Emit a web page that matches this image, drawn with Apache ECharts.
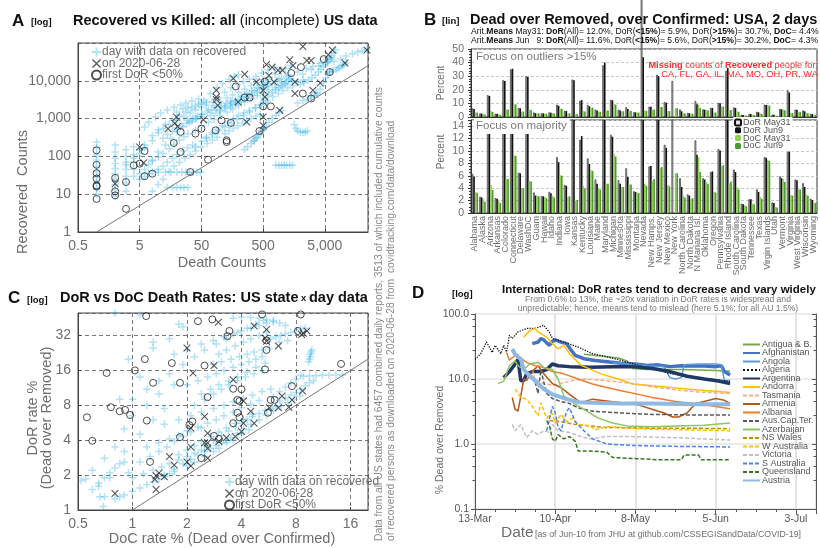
<!DOCTYPE html>
<html>
<head>
<meta charset="utf-8">
<script src="https://cdn.jsdelivr.net/npm/echarts@6/dist/echarts.min.js"></script>
<style>
html, body { margin: 0; padding: 0; background: #fff; }
#chart { width: 820px; height: 548px; }
</style>
</head>
<body>
<div id="chart"></div>
<script>
// ---------- Panel A: recovered vs deaths (deaths, recovered) ----------
var plusA = [
  [[1500,10000],[2200,15000],[3000,20000],[4000,25000],[5500,30000],[7000,33000],[9000,38000],[11000,45000],[14000,52000],[17000,58000],[20000,62000],[24000,68000]],
  [[600,8000],[900,11000],[1300,14000],[1800,17000],[2500,21000],[3200,24000],[4200,29000],[5500,37000],[6500,45000],[7000,55000],[7500,65000]],
  [[6000,17000],[6800,18500],[7600,20000],[8200,21500],[8800,23000],[9500,25000],[10200,27000],[11000,30000]],
  [[3000,4000],[3600,4800],[4200,6000],[4800,9000],[5200,12000],[5600,15000],[6000,17000]],
  [[1800,2600],[2200,3000],[2600,3300],[3000,3600],[3400,4000],[3800,4500]],
  [[3,60],[4,90],[5,150],[6,200],[8,350],[10,500],[13,700],[17,900],[22,1200],[28,1500],[35,1900],[45,2400],[55,3000],[70,4500],[90,6500],[110,8500],[140,11000],[170,13000],[200,14500]],
  [[5,120],[6,170],[8,260],[10,420],[12,550],[15,700],[20,900],[26,1100],[33,1400],[40,1700],[50,2000],[60,2300],[75,2800],[95,3600],[120,5000],[150,6500],[190,8000],[240,9500],[300,11000],[380,13000],[480,16000],[600,20000],[750,23000]],
  [[8,80],[10,130],[13,200],[16,300],[20,450],[25,600],[32,800],[40,1000],[50,1300],[65,1700],[80,2200],[100,2800],[130,3500],[160,4200],[200,5000],[250,6000],[320,7500],[400,9000],[500,10500],[620,12500],[780,15000],[950,18000],[1150,21000],[1400,25000]],
  [[30,400],[40,500],[50,650],[65,800],[80,950],[100,1200],[130,1500],[160,1800],[200,2200],[250,2700],[320,3300],[400,4000],[500,4800],[620,5600],[780,6500],[950,7500],[1150,8500]],
  [[60,300],[75,380],[95,480],[120,600],[150,750],[190,950],[240,1200],[300,1500],[380,1900],[470,2400],[580,3000],[720,3800],[880,4600],[1050,5500],[1250,6500],[1500,7500],[1800,9000],[2200,10500]],
  [[250,150],[280,180],[320,220],[360,270],[400,320],[450,400],[500,500],[560,620],[620,800],[700,1000],[800,1200],[900,1450],[1000,1650]],
  [[350,250],[380,300],[420,380],[470,470],[520,580]],
  [[10,38],[13,38],[16,38],[20,38],[24,38],[28,38],[32,38],[37,38],[42,38],[48,38]],
  [[14,15],[17,15],[20,15],[23,15],[26,15],[30,15]],
  [[800,58],[900,58],[1000,58],[1100,58],[1200,58],[1350,58],[1500,58]],
  [[1600,700],[1700,550],[1800,480],[2000,440],[2200,430],[2400,440],[2600,470]],
  [[1,10],[1,14],[1,20],[1,28],[1,40],[1,55],[1,80],[1,110],[1,170],[1,240]],
  [[2,9],[2,13],[2,18],[2,25],[2,35],[2,48],[2,65],[2,90],[2,130],[2,200]],
  [[3,12],[3,20],[3,30],[3,45],[3,70],[3,100],[3,150],[4,45],[4,70],[4,110],[4,180]],
  [[5,25],[6,30],[7,35],[8,40],[10,45],[12,55],[14,70],[17,90],[20,110],[25,140],[30,170],[36,200]],
  [[8,12],[10,18],[12,25],[15,40],[18,55],[22,70],[27,90],[33,110],[40,140],[50,180],[62,220],[75,270],[90,320]],
  [[40,180],[50,250],[60,320],[75,420],[90,520],[110,650],[135,800],[165,1000],[200,1200],[245,1400],[300,1650],[370,1950],[450,2300],[550,2700]],
  [[100,1700],[120,2100],[150,2600],[180,3100],[220,3800],[270,4600],[330,5500],[400,6600],[480,7800],[560,9000]],
  [[20,1500],[25,1800],[30,2000],[40,2200],[50,2500],[60,2700]],
  [[500,3500],[600,4200],[700,5000],[800,5800],[900,6500],[1000,7500],[1100,8500],[1200,9500],[1300,10500],[1400,11500]],
  [[2000,8000],[2300,9000],[2700,10500],[3100,12000],[3500,14000],[3900,17000],[4300,20000],[4700,24000],[5100,28000],[5500,32000],[5900,36000],[6300,40000]],
  [[6,600],[7,800],[9,1100],[11,1400],[14,1700],[18,2000],[23,2300],[28,2600],[35,2900],[45,3300]],
  [[150,2000],[180,2400],[220,2900],[270,3500],[330,4200],[400,5000],[480,6000],[580,7200],[700,8600],[850,10000],[1000,11500],[1200,13000]],
  [[70,1200],[85,1400],[100,1600],[120,1900],[145,2300],[175,2800],[210,3300],[250,3900],[300,4600],[360,5400],[430,6300],[520,7400]],
  [[30,900],[36,1000],[43,1150],[52,1300],[62,1500],[74,1700],[88,1950],[105,2200],[125,2500],[150,2900]],
  [[12,300],[14,380],[17,470],[20,560],[24,650],[29,750],[35,850],[42,980],[50,1100]],
  [[4,30],[5,35],[6,45],[7,60],[8,75],[10,95],[12,120],[15,160],[18,210],[22,270],[26,330]],
  [[120,400],[140,480],[165,560],[195,650],[230,760],[270,880],[320,1000],[380,1150],[450,1300]]
];
var crossA = [[2,19],[5,177],[5.8,68],[14.4,540],[19.7,1100],[18.5,750],[20.5,620],[54,930],[87,5600],[87,3200],[92,2250],[87,3700],
  [164,11500],[197,2750],[251,14800],[270,810],[390,9300],[500,1100],[500,5600],[500,660],[533,3700],[567,27000],[621,13800],[698,23000],
  [750,9300],[870,19000],[931,1660],[1025,19000],[1350,36000],[1520,25500],[1640,9300],[1640,4600],[2200,81000],[2550,34500],[3000,34500],
  [3200,5600],[4200,8800],[5700,49000],[6600,65000],[10600,29500],[24000,65000]];
var circleA = [[1,145],[1,60],[1,36],[1,26],[1,17],[1,16],[1,7.5],[2,27],[2,11.9],[2,9.3],[3,4.1],[3,21],[4,58],[5,64],[6,139],[6,30],[8,35],
  [17.8,226],[23,444],[23,130],[33,38.6],[40,400],[50,540],[64,82],[85,490],[106,900],[128,266],[128,240],[150,770],[180,7100],[251,3600],
  [302,3600],[435,470],[500,2100],[533,9500],[666,2100],[1430,16000],[2200,4600],[2050,23000],[3000,3400],[4800,37500],[6000,17000]];
var diagonalA = [1, 25000];

// ---------- Panel B: DoR / DoC per state ----------
var states = ['Alabama','Alaska','Arizona','Arkansas','Colorado','Connecticut','Delaware','WashDC','Guam','Hawaii','Idaho','Indiana','Iowa',
  'Kansas','Kentucky','Louisiana','Maine','Maryland','Michigan','Minnesota','Mississippi','Montana','Nevada','New Hamps.','New Jersey',
  'New Mexico','New York','North Carolina','North Dakota','N Mariana Isl.','Oklahoma','Oregon','Pennsylvania','Rhode Island',
  'South Carolina','South Dakota','Tennessee','Texas','Virgin Islands','Utah','Vermont','Virginia','West Virginia','Wisconsin','Wyoming'];
var dorMay31 = [6.3,2.6,16,2.4,27,35,6.5,30,3.3,2.7,3.4,9.0,4.5,27.5,11.8,8.8,5.4,38,12.6,5.3,7.2,3.5,86,7.5,31,11,26.5,5.6,3.0,11.7,5.6,6.6,10.3,34,7.0,1.5,2.2,3.8,9.0,1.7,5.9,19.5,5.4,4.8,2.3];
var dorJun9 = [5.9,2.5,15.5,2.3,26.5,35.5,6.4,29.5,2.8,2.7,3.2,8.2,4.4,27,12.4,7.9,4.7,40,12.3,4.7,5.8,3.4,44,7.6,30,10.5,null,4.2,2.8,9.4,5.4,6.7,10.1,36,6.6,1.4,2.2,3.4,8.9,1.6,5.6,18,5.3,4.2,2.1];
var docMay31 = [3.4,2.2,4.5,2.0,5.5,9.3,4.0,5.2,2.8,2.6,2.8,6.1,2.6,2.0,4.4,6.9,4.0,4.7,9.5,4.2,4.6,3.3,4.7,5.2,7.3,4.5,6.4,2.8,2.3,9.0,5.0,3.4,7.6,4.8,4.1,1.2,1.5,2.6,8.6,1.0,5.5,2.9,3.8,3.0,1.7];
var docJun9 = [3.2,1.8,3.7,1.6,5.5,9.2,4.0,5.1,2.7,2.4,2.5,6.0,2.7,2.1,4.0,6.8,3.8,4.7,9.1,4.2,4.6,3.2,4.4,5.5,7.4,4.3,6.4,2.5,2.4,6.6,4.7,3.3,7.7,5.1,3.8,1.1,1.4,2.3,8.4,0.9,5.0,2.8,3.8,2.8,1.6];

// ---------- Panel C: DoR vs DoC (DoC %, DoR %) ----------
var plusC = [
  [[0.8,1.25],[0.9,1.35],[1.0,1.45],[1.1,1.55],[1.2,1.65],[1.3,1.75],[1.4,1.85],[1.5,1.95],[1.6,2.05],[1.7,2.15]],
  [[1.0,1.9],[1.15,2.05],[1.3,2.2],[1.45,2.35],[1.6,2.5],[1.8,2.7],[2.0,2.9],[2.2,3.1],[2.4,3.3],[2.6,3.5]],
  [[1.5,2.0],[1.7,2.25],[1.9,2.5],[2.1,2.75],[2.3,3.0],[2.5,3.2],[2.7,3.4],[2.9,3.6],[3.1,3.8],[3.3,4.0]],
  [[2.5,3.6],[2.8,4.0],[3.1,4.4],[3.4,4.8],[3.7,5.2],[4.0,5.6],[4.3,6.0],[4.6,6.4],[5.0,6.8],[5.4,7.2],[5.8,7.5],[6.2,7.8]],
  [[3.5,4.2],[3.8,4.6],[4.1,5.0],[4.5,5.5],[5.0,6.0],[5.5,6.6],[6.0,7.2],[6.6,7.8],[7.2,8.4],[7.8,9.0],[8.4,9.6]],
  [[1.2,3.5],[1.4,3.8],[1.6,4.1],[1.8,4.4],[2.0,4.8],[2.3,5.2],[2.6,5.6],[2.9,6.0],[3.2,6.5],[3.6,7.0],[4.0,7.6],[4.5,8.2],[5.0,8.8]],
  [[1.5,5.5],[1.8,6.0],[2.1,6.5],[2.4,7.0],[2.8,7.5],[3.2,8.0],[3.6,8.6],[4.1,9.2],[4.6,9.8],[5.2,10.5],[5.8,11.0]],
  [[1.0,9],[1.2,11],[1.4,13],[1.6,15],[1.9,18],[2.2,21],[2.5,24],[2.9,27],[3.3,30],[3.8,34],[4.3,37],[4.8,40],[5.3,43]],
  [[1.7,22],[2.0,24],[2.4,27],[2.8,29],[3.2,31],[3.6,33],[4.0,35],[4.5,37],[5.0,39],[5.5,41],[6.0,42]],
  [[2.0,12],[2.3,13],[2.6,14],[2.9,15],[3.2,16],[3.6,17],[4.0,18],[4.4,19],[4.8,20],[5.2,21]],
  [[5.8,30],[6.2,31],[6.6,32],[7.0,33],[7.5,34],[8.0,35],[8.5,36],[9.0,37],[6.5,28],[7.2,29]],
  [[9.4,19],[9.5,20],[9.6,21],[9.6,22],[9.7,23],[9.8,24]],
  [[8.8,14.2],[9.5,14.3],[10.3,14.4],[11.2,14.5],[12.2,14.5],[13.3,14.6],[14.5,14.6]],
  [[6.5,8.8],[7.0,9.3],[7.5,9.8],[8.0,10.3],[8.5,11.0],[9.0,11.8],[9.5,12.5],[10.0,13.0]],
  [[0.55,1.85],[0.6,2.2],[0.65,1.6],[0.7,1.3],[0.75,1.9],[0.85,2.5],[0.9,3.2],[0.95,2.1],[0.7,2.8],[0.8,3.5],[0.52,1.8],[0.69,1.07],[0.66,1.3],[0.85,1.3]],
  [[0.9,5],[1.0,6.5],[1.1,4.5],[1.2,8],[1.3,6],[0.85,9],[1.4,10],[1.5,7.5],[1.7,12],[1.1,14],[0.95,20],[1.3,25],[1.6,30],[1.9,38],[1.1,48],[1.8,40],[0.8,50],[1.3,28]],
  [[2.2,8],[2.5,9],[2.8,10],[3.1,11],[3.4,12],[3.8,13],[4.2,14],[4.7,15],[5.2,16]],
  [[3.6,45],[4.0,46],[4.5,46],[5.0,45],[5.5,44],[6.0,43],[6.5,41],[7.0,39]],
  [[2.8,18],[3.1,19],[3.5,20],[3.9,21],[4.3,22],[4.7,23],[5.2,24],[5.7,25]],
  [[2.0,2.4],[2.2,2.6],[2.5,2.9],[2.8,3.2],[3.0,3.4],[3.3,3.8],[3.6,4.0],[4.0,4.5],[4.4,4.9]],
  [[1.8,3.0],[2.0,3.3],[2.2,3.6],[2.4,3.9],[2.7,4.3],[3.0,4.7],[3.3,5.1],[3.7,5.6],[4.1,6.1],[4.6,6.7]],
  [[1.1,2.6],[1.25,2.9],[1.4,3.2],[1.55,3.5],[1.7,3.9],[1.9,4.3],[2.1,4.7],[2.4,5.1]],
  [[2.4,10],[2.7,11],[3.0,12],[3.4,13],[3.8,14],[4.3,15.5],[4.8,17],[5.4,18.5]],
  [[3.0,22],[3.3,24],[3.7,26],[4.1,28],[4.5,30],[5.0,32],[5.5,34]],
  [[6.0,9.5],[6.5,10.5],[7.0,11.5],[7.5,12.5],[8.0,13.5],[8.5,14.5]],
  [[0.6,1.5],[0.65,1.7],[0.7,1.9],[0.75,2.1],[0.8,2.3],[0.9,2.6]]
];
var crossC = [[2.0,25],[2.16,15.2],[2.82,17.6],[2.98,41.6],[4.7,38.6],[5.5,36],[5.4,30.5],[5.5,28.6],[6.4,26],[8.6,32.6],[9.2,35],[8.8,33.5],
  [3.6,13.3],[8.7,10.6],[6.7,9.6],[7.6,8.9],[4.1,8.7],[4.5,7.1],[5.7,7.6],[6.4,7.6],[7.3,7.7],[4.7,5.6],[4.1,5.6],[3.7,4.3],[4.0,4.75],
  [2.5,6.4],[2.6,4.6],[2.1,5.1],[2.1,3.5],[2.5,3.8],[2.6,3.4],[2.6,3.8],[3.0,3.9],[3.3,4.2],[2.6,2.8],[2.0,2.6],[2.1,2.4],[1.7,2.45],
  [1.6,2.9],[1.5,1.94],[1.4,2.08],[1.35,1.97],[1.33,1.84],[1.35,1.5],[0.8,1.39]];
var circleC = [[1.19,47],[2.3,42.5],[2.76,44],[3.43,35],[3.35,31.6],[5.2,48.6],[8.5,48.6],[8.2,35],[5.5,29],[5.5,24],[5.4,16.3],[14.2,18.2],
  [1.17,20],[1.65,18.5],[2.5,17.6],[1.03,16],[0.72,15.2],[1.3,12.5],[1.83,12.5],[3.6,11.1],[4.0,11],[7.6,11.7],[2.6,9.4],[3.8,8.9],
  [3.9,8.7],[5.8,8.9],[6.1,8.9],[5.6,6.9],[3.8,6.9],[3.9,6.3],[3.6,5.6],[2.06,5.4],[2.14,5.8],[1.2,5.9],[0.76,7.7],[0.85,7.1],[0.91,7.3],
  [0.97,6.6],[0.56,6.3],[0.6,3.95],[1.83,4.25],[2.82,4.35],[3.0,4.1],[2.4,2.8],[1.25,2.6]];
var diagonalC = [1, 20];

// ---------- Panel D: international DoR (days after 13-Mar, %) ----------
var antigua = [[38,24],[42,23],[46,22],[50,21],[53,19],[55,14.5],[60,14],[66,14],[72,14],[78,13.8],[84,13.5],[89,13.2]];
var afghanistan = [[20,35],[22,37],[23,42],[24,40],[25,36],[26,33],[27,38],[28,40],[30,37],[32,35],[33,30],[35,23],[38,20.5],[42,19.3],[47,18.2],[51,17.5],[56,17],[60,16.2],[64,16.5],[68,15.5],[72,16],[76,15.8],[80,15.8],[84,15.5],[86,16],[87,13],[89,11.5]];
var angola = [[48,18],[54,17],[60,16],[66,15.5],[68,10.5],[70,10],[72,10.5],[73,16.5],[78,17],[84,17],[86,16.5],[87,9.5],[89,9.5]];
var algeria = [[0,20],[2,24.5],[4,37],[6,25.6],[7,33],[9,24.5],[10,33],[11,26],[12,47],[13,42],[15,53],[18,60],[21,60],[24,67],[26,52],[27,42],[31,37],[36,31],[41,24.5],[46,22],[51,19.3],[57,16.2],[62,14.3],[67,12.5],[73,11],[79,10.3],[84,9.8],[89,9.2]];
var argentina = [[10,10.5],[12,13],[14,17],[15,20],[16,9.4],[17,9.5],[18,12],[20,13],[23,13],[25,14],[27,17],[29,16],[33,15.5],[40,15.2],[48,15.5],[55,15.5],[62,14.5],[68,13],[74,11],[80,10],[85,9.3],[89,8.5]];
var andorra = [[17,44],[19,55],[21,60],[22,53],[25,44],[27,35],[29,29],[31,33],[33,24.5],[37,16.2],[40,14.3],[44,12],[50,10],[55,8.4],[62,7.9],[70,7.3],[78,6.8],[84,6.5],[89,6.2]];
var tasmania = [[20,14],[21,9.5],[24,8.5],[27,8],[30,8.6],[34,9.5],[38,10],[44,9.6],[50,9],[56,8.4],[62,7.6],[70,6.8],[78,6.3],[89,6.0]];
var armenia = [[13,5.2],[14,3.4],[15,3.2],[16,5.5],[17,10],[18,9.5],[20,13],[22,16],[24,12],[27,8.5],[30,7.4],[33,5.8],[37,4.3],[41,4.9],[46,4.6],[51,4.3],[57,4.0],[62,3.4],[66,3.0],[69,2.6],[71,2.6],[74,3.0],[77,4.2],[80,4.5],[84,5.0],[87,4.7],[89,4.2]];
var albania = [[11,25.6],[12,19.5],[14,23],[16,21],[18,18],[21,16],[24,15],[27,13],[31,12],[36,10],[41,8.4],[46,7.4],[51,6.6],[57,5.8],[62,5.2],[70,4.5],[80,4.0],[89,3.5]];
var ausCapTer = [[21,9],[22,6],[23,14],[24,9],[25,6],[27,5],[30,4.5],[33,4.2],[36,3.6],[41,3.2],[51,3.0],[62,2.85],[75,2.8],[89,2.8]];
var azerbaijan = [[8,8.5],[10,9.2],[12,16],[14,19],[15,16],[17,14],[19,17],[22,18],[24,15],[27,14],[29,10],[31,5.5],[35,4.1],[38,3.4],[43,2.5],[48,2.1],[53,1.9],[62,1.85],[70,1.9],[80,1.95],[89,2.1]];
var nsWales = [[26,2.3],[30,2.2],[35,2.0],[40,1.9],[45,1.8],[52,1.78],[62,1.75],[75,1.75],[89,1.72]];
var wAustralia = [[14,7],[16,5.2],[18,4.9],[20,3.8],[22,2.7],[23,4.3],[25,2.5],[27,3],[28,2.1],[30,2.85],[32,2.2],[34,2.5],[36,2.0],[40,1.9],[42,1.65],[46,1.85],[51,1.8],[60,1.7],[75,1.65],[89,1.6]];
var victoria = [[13,2.0],[14,1.6],[16,2.0],[18,1.25],[20,1.6],[22,1.4],[24,1.6],[26,1.5],[27,2.0],[29,1.6],[33,1.5],[37,1.3],[40,1.2],[46,1.3],[55,1.3],[70,1.25],[89,1.15]];
var sAustralia = [[25,1.6],[27,3.8],[28,3.0],[29,1.8],[30,1.6],[32,3.2],[33,3.6],[35,2.2],[38,1.6],[41,1.2],[46,1.0],[55,0.95],[70,0.92],[89,0.9]];
var queensland = [[25,2.3],[26,1.9],[27,1.2],[28,1.1],[29,1.4],[31,1.2],[33,1.3],[35,1.1],[36,0.78],[40,0.78],[46,0.75],[48,0.62],[55,0.6],[65,0.57],[72,0.57],[73,0.68],[78,0.68],[79,0.57],[89,0.57]];
var austria = [[13,29],[14,24],[15,22],[16,20],[17,14],[18,12.5],[19,11.3],[21,9.4],[24,7],[27,5.8],[32,4.9],[36,4.4],[41,4.3],[51,4.2],[62,4.2],[75,4.1],[89,4.1]];

var countries = [
  ['Antigua & B.', antigua, '#70ad47', 1.5, 'solid'],
  ['Afghanistan', afghanistan, '#4472c4', 3.5, 'solid'],
  ['Angola', angola, '#5b9bd5', 1.5, 'solid'],
  ['Algeria', algeria, '#111', 1.3, 'dotted'],
  ['Argentina', argentina, '#1f3864', 3.5, 'solid'],
  ['Andorra', andorra, '#ffc000', 1.5, 'solid'],
  ['Tasmania', tasmania, '#f4b183', 1.5, [4, 2]],
  ['Armenia', armenia, '#b5561a', 1.5, 'solid'],
  ['Albania', albania, '#ed7d31', 1.5, 'solid'],
  ['Aus.Cap.Ter.', ausCapTer, '#595959', 1.5, [4, 2]],
  ['Azerbaijan', azerbaijan, '#8cc568', 1.5, 'solid'],
  ['NS Wales', nsWales, '#bf9000', 1.5, [4, 2]],
  ['W Australia', wAustralia, '#ffc000', 1.5, [4, 2]],
  ['Victoria', victoria, '#bfbfbf', 1.5, [4, 2]],
  ['S Australia', sAustralia, '#4a86e8', 1.5, [4, 2]],
  ['Queensland', queensland, '#38761d', 1.5, [4, 2]],
  ['Austria', austria, '#8fb9e3', 4, 'solid']
];

var FONT = '"Liberation Sans", Arial, Helvetica, sans-serif';
var GRAY = '#6e6e6e';
var MONTHS = ['Jan','Feb','Mar','Apr','May','Jun','Jul','Aug'];
var PLUS = 'path://M4,0H6V4H10V6H6V10H4V6H0V4H4Z';
var CROSS = 'path://M0,1L1,0L5,4L9,0L10,1L6,5L10,9L9,10L5,6L1,10L0,9L4,5Z';

function flat(groups) { return [].concat.apply([], groups); }
function toA(p) { return [Math.log10(p[0] / 0.5), Math.log10(p[1])]; }
function toC(p) { return [Math.log2(p[0] / 0.5), Math.log2(p[1])]; }
function num(v) { return Number(v.toPrecision(6)).toLocaleString('en-US'); }
function dayLabel(d) {
  var t = new Date(2020, 2, 13 + Math.round(d));
  return t.getDate() + '-' + MONTHS[t.getMonth()];
}

function T(x, y, text, style, rot) {
  return {
    type: 'text', x: x, y: y, rotation: rot || 0, silent: true, z: 50,
    style: Object.assign({ text: text, fill: '#111', fontFamily: FONT, fontSize: 12, align: 'left', verticalAlign: 'middle' }, style)
  };
}
function rich(size, color) {
  return {
    b: { fontSize: size, fontWeight: 'bold', fontFamily: FONT, fill: color },
    n: { fontSize: size, fontFamily: FONT, fill: color },
    s: { fontSize: size * 0.65, fontWeight: 'bold', fontFamily: FONT, fill: color }
  };
}

var logAxisStyle = {
  axisLine: { show: true, lineStyle: { color: '#444' } },
  axisTick: { inside: true, length: 3, lineStyle: { color: '#444' } },
  splitLine: { lineStyle: { type: [4, 3], color: '#555', width: 0.8 } }
};
function scatterAxis(grid, max, fmt) {
  return Object.assign({
    gridIndex: grid, type: 'value', min: 0, max: max, interval: 1,
    axisLabel: { fontSize: 14, color: GRAY, margin: 7, showMaxLabel: false, formatter: fmt }
  }, logAxisStyle);
}

var barStyles = [
  ['DoR May31', dorMay31, { color: '#e6e6e6', borderColor: '#111', borderWidth: 0.6 }],
  ['DoR Jun9', dorJun9, { color: '#111' }],
  ['DoC May31', docMay31, { color: '#8fd14f' }],
  ['DoC Jun9', docJun9, { color: '#4e9a2e' }]
];

var series = [];
// panel A and C scatters
[[0, plusA, crossA, circleA, toA, diagonalA], [3, plusC, crossC, circleC, toC, diagonalC]].forEach(function (p) {
  var g = p[0], tf = p[4];
  series.push({ type: 'line', xAxisIndex: g, yAxisIndex: g, silent: true, symbol: 'none',
    lineStyle: { color: '#777', width: 1 }, data: [p[5][0], p[5][1]].map(function (v) { return tf([v, v]); }) });
  series.push({ type: 'scatter', name: 'day with data on recovered', xAxisIndex: g, yAxisIndex: g, symbol: PLUS, symbolSize: 7.5,
    itemStyle: { color: 'rgba(30,170,228,0.42)' }, data: flat(p[1]).map(tf) });
  series.push({ type: 'scatter', name: 'on 2020-06-28', xAxisIndex: g, yAxisIndex: g, symbol: CROSS, symbolSize: 7.5,
    itemStyle: { color: '#2a2a2a' }, data: p[2].map(tf) });
  series.push({ type: 'scatter', name: 'first DoR <50%', xAxisIndex: g, yAxisIndex: g, symbol: 'circle', symbolSize: 7,
    itemStyle: { color: 'rgba(0,0,0,0)', borderColor: '#222', borderWidth: 1 }, data: p[3].map(tf) });
});
// panel B bars (top: outliers, bottom: majority)
[1, 2].forEach(function (g) {
  barStyles.forEach(function (b) {
    series.push({ type: 'bar', name: b[0], xAxisIndex: g, yAxisIndex: g, data: b[1], barGap: '0%', barCategoryGap: '16%',
      clip: g === 2, itemStyle: b[2] });
  });
});
// panel D lines
countries.forEach(function (c) {
  series.push({ type: 'line', name: c[0], xAxisIndex: 4, yAxisIndex: 4, data: c[1], symbol: 'none', showSymbol: false,
    lineStyle: { color: c[2], width: c[3], type: c[4] }, itemStyle: { color: c[2] } });
});

var scatterLegendNames = ['day with data on recovered', 'on 2020-06-28', 'first DoR <50%'];

var option = {
  animation: false,
  textStyle: { fontFamily: FONT },
  grid: [
    { left: 78, top: 43, width: 290, height: 189, show: true, borderColor: '#444', borderWidth: 1 },
    { left: 471, top: 49, width: 346, height: 68, show: true, borderColor: '#333', borderWidth: 1 },
    { left: 471, top: 120, width: 346, height: 93, show: true, borderColor: '#333', borderWidth: 1 },
    { left: 78, top: 313, width: 290, height: 197, show: true, borderColor: '#444', borderWidth: 1 },
    { left: 475, top: 314, width: 341, height: 195 }
  ],
  xAxis: [
    scatterAxis(0, Math.log10(25000 / 0.5), function (v) { return num(0.5 * Math.pow(10, v)); }),
    { gridIndex: 1, type: 'category', data: states, axisLabel: { show: false }, axisTick: { length: 2 },
      axisLine: { lineStyle: { color: '#333' } } },
    { gridIndex: 2, type: 'category', data: states, axisTick: { length: 2 }, axisLine: { lineStyle: { color: '#333' } },
      axisLabel: { rotate: 90, interval: 0, fontSize: 9, color: GRAY, margin: 3 } },
    scatterAxis(3, Math.log2(40), function (v) { return num(0.5 * Math.pow(2, v)); }),
    { gridIndex: 4, type: 'value', min: 0, max: 119, interval: 28,
      axisLine: { lineStyle: { color: '#555' } }, axisTick: { length: 5, lineStyle: { color: '#555' } },
      minorTick: { show: true, splitNumber: 4, length: 3, lineStyle: { color: '#555' } },
      axisLabel: { fontSize: 10.5, color: '#555', margin: 5, showMaxLabel: false, formatter: dayLabel },
      splitLine: { show: true, lineStyle: { color: '#e4e4e4', width: 2 } } }
  ],
  yAxis: [
    scatterAxis(0, 5, function (v) { return num(Math.pow(10, v)); }),
    { gridIndex: 1, type: 'value', min: 0, max: 50, interval: 10,
      axisLine: { show: true, lineStyle: { color: '#333' } }, axisTick: { show: true, length: 3 },
      minorTick: { show: true, splitNumber: 5, length: 2 },
      axisLabel: { fontSize: 10.5, color: GRAY, margin: 7 },
      splitLine: { lineStyle: { type: [3, 2], color: '#c8c8c8' } } },
    { gridIndex: 2, type: 'value', min: 0, max: 15, interval: 2,
      axisLine: { show: true, lineStyle: { color: '#333' } }, axisTick: { show: true, length: 3 },
      minorTick: { show: true, splitNumber: 4, length: 2 },
      axisLabel: { fontSize: 10.5, color: GRAY, margin: 7, showMaxLabel: false },
      splitLine: { lineStyle: { type: [3, 2], color: '#c8c8c8' } } },
    scatterAxis(3, Math.log2(50), function (v) { return num(Math.pow(2, v)); }),
    { gridIndex: 4, type: 'log', logBase: 10, min: 0.1, max: 100,
      axisLine: { show: true, lineStyle: { color: '#555' } }, axisTick: { length: 4, lineStyle: { color: '#555' } },
      minorTick: { show: true, splitNumber: 5, length: 2.5, lineStyle: { color: '#555' } },
      axisLabel: { fontSize: 10.5, color: '#555', margin: 6, formatter: function (v) { return v.toFixed(1); } },
      splitLine: { show: true, lineStyle: { color: '#e4e4e4', width: 1.5 } } },
    { gridIndex: 4, type: 'log', logBase: 10, min: 0.1, max: 100, position: 'right',
      axisLine: { show: true, lineStyle: { color: '#555' } }, axisTick: { inside: true, length: 4, lineStyle: { color: '#555' } },
      minorTick: { show: true, splitNumber: 5, length: 2.5, lineStyle: { color: '#555' } },
      axisLabel: { show: false }, splitLine: { show: false } }
  ],
  legend: [
    { left: 86, top: 41, orient: 'vertical', itemWidth: 9, itemHeight: 9, itemGap: -0.5, selectedMode: false,
      textStyle: { fontSize: 12, color: GRAY, lineHeight: 10.5, padding: [0, 0, 0, -4] }, data: scatterLegendNames },
    { left: 219, top: 471, orient: 'vertical', itemWidth: 9, itemHeight: 9, itemGap: -0.5, selectedMode: false,
      textStyle: { fontSize: 12, color: GRAY, lineHeight: 10.5, padding: [0, 0, 0, -4] }, data: scatterLegendNames },
    { left: 733, top: 117, orient: 'vertical', itemWidth: 6, itemHeight: 6, itemGap: -1.2, selectedMode: false,
      backgroundColor: '#fff', padding: [1, 2, 1, 1],
      textStyle: { fontSize: 9, color: '#555', lineHeight: 6.2, padding: [0, 0, 0, -3] }, data: ['DoR May31', 'DoR Jun9', 'DoC May31', 'DoC Jun9'] },
    { left: 737, top: 335, orient: 'vertical', itemWidth: 17, itemHeight: 6, itemGap: -0.5, selectedMode: false,
      itemStyle: { opacity: 0 },
      textStyle: { fontSize: 9, color: '#555', lineHeight: 7.7, padding: [0, 0, 0, -3] },
      data: countries.map(function (c) { return c[0]; }) }
  ],
  graphic: [
    // A
    T(12, 21, 'A', { fontSize: 17, fontWeight: 'bold' }),
    T(31, 22, '[log]', { fontSize: 9.5, fontWeight: 'bold' }),
    T(73, 21, '{b|Recovered vs Killed: all }{n|(incomplete)}{b| US data}', { rich: rich(14.5, '#111') }),
    T(23, 192, 'Recovered  Counts', { fontSize: 14.5, fill: GRAY, align: 'center' }, Math.PI / 2),
    T(222, 263, 'Death Counts', { fontSize: 14.5, fill: GRAY, align: 'center' }),
    // vertical note
    T(379, 541, 'Data from all US states had 6457 combined daily reports, 3513 of which included cumulative counts', { fontSize: 10.3, fill: '#8a8a8a' }, Math.PI / 2),
    T(391, 541, 'of recovered persons as downloaded on 2020-06-28 from  covidtracking.com/data/download', { fontSize: 10.3, fill: '#8a8a8a' }, Math.PI / 2),
    // B
    T(424, 20, 'B', { fontSize: 17, fontWeight: 'bold' }),
    T(442, 21, '[lin]', { fontSize: 9.5, fontWeight: 'bold' }),
    T(470, 20, 'Dead over Removed, over Confirmed: USA, 2 days', { fontSize: 14.5, fontWeight: 'bold' }),
    T(471, 32, '{n|Arit.}{b|Means}{n| May31: }{b|DoR}{n|(All)= 12.0%, DoR(}{b|<15%}{n|)= 5.9%, DoR(}{b|>15%}{n|)= 30.7%, }{b|DoC}{n|= 4.4%}', { rich: rich(8.6, '#111') }),
    T(471, 40.5, '{n|Arit.}{b|Means}{n| Jun   9: }{b|DoR}{n|(All)= 11.6%, DoR(}{b|<15%}{n|)= 5.6%, DoR(}{b|>15%}{n|)= 30.2%, }{b|DoC}{n|= 4.3%}', { rich: rich(8.6, '#111') }),
    T(474, 57, 'Focus on outliers >15%', { fontSize: 11.5, fill: '#7a7a7a', backgroundColor: '#fff', padding: [1, 2, 1, 2] }),
    T(474, 126, 'Focus on majority', { fontSize: 11.5, fill: '#7a7a7a', backgroundColor: '#fff', padding: [2, 3, 2, 2] }),
    T(818, 65, '{b|Missing}{n| counts of }{b|Recovered}{n| people for:}', { align: 'right', rich: rich(9.2, '#ff2a2a') }),
    T(818, 74.5, 'CA, FL, GA, IL, MA, MO, OH, PR, WA', { align: 'right', fontSize: 9.3, fill: '#ff2a2a' }),
    T(441, 83, 'Percent', { fontSize: 10, fill: GRAY, align: 'center' }, Math.PI / 2),
    T(441, 152, 'Percent', { fontSize: 10, fill: GRAY, align: 'center' }, Math.PI / 2),
    // C
    T(8, 298, 'C', { fontSize: 17, fontWeight: 'bold' }),
    T(27, 300, '[log]', { fontSize: 9.5, fontWeight: 'bold' }),
    T(60, 298, '{b|DoR vs DoC Death Rates: US state}{s| x }{b|day data}', { rich: rich(14.5, '#111') }),
    T(33, 418, 'DoR rate %', { fontSize: 14.5, fill: GRAY, align: 'center' }, Math.PI / 2),
    T(47, 418, '(Dead over Removed)', { fontSize: 14.5, fill: GRAY, align: 'center' }, Math.PI / 2),
    T(222, 539, 'DoC rate % (Dead over Confirmed)', { fontSize: 14.5, fill: GRAY, align: 'center' }),
    // D
    T(412, 293, 'D', { fontSize: 17, fontWeight: 'bold' }),
    T(452, 294, '[log]', { fontSize: 9.5, fontWeight: 'bold' }),
    T(502, 290, 'International: DoR rates tend to decrease and vary widely', { fontSize: 11.5, fontWeight: 'bold' }),
    T(658, 300, 'From 0.6% to 13%, the ~20x variation in DoR rates is widespread and', { fontSize: 8.6, fill: '#777', align: 'center' }),
    T(658, 309, 'unpredictable; hence, means tend to mislead (here 5.1%; for all AU 1.5%)', { fontSize: 8.6, fill: '#777', align: 'center' }),
    T(440, 440, '% Dead over Removed', { fontSize: 10.5, fill: GRAY, align: 'center' }, Math.PI / 2),
    T(501, 533, 'Date', { fontSize: 15.5, fill: GRAY }),
    T(535, 535, '[as of Jun-10 from JHU at github.com/CSSEGISandData/COVID-19]', { fontSize: 8.8, fill: GRAY })
  ],
  series: series
};

var chart = echarts.init(document.getElementById('chart'));
chart.setOption(option);
</script>
</body>
</html>
